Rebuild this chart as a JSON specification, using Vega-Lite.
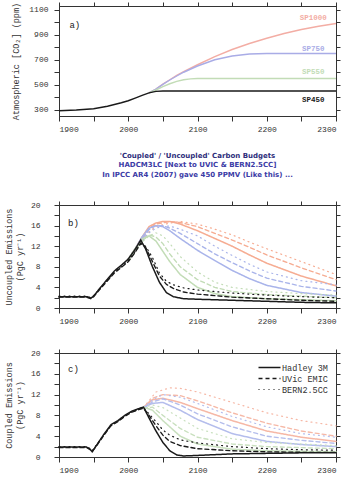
{
"$schema": "https://vega.github.io/schema/vega-lite/v6.json",
"padding": {"left": 4, "top": 1, "right": 0, "bottom": 2},
"background": "white",
"config": {
 "view": {"stroke": "#333", "strokeWidth": 1},
 "axis": {"grid": false, "domain": true, "domainColor": "#333", "tickColor": "#333", "labelColor": "#333", "titleColor": "#333", "labelFont": "Liberation Mono", "titleFont": "Liberation Mono", "labelFontSize": 8, "titleFontSize": 8.5, "titleFontWeight": "normal", "tickSize": 5},
 "legend": {"labelFont": "Liberation Mono", "labelFontSize": 8.5, "labelColor": "#333"}
},
"spacing": 17,
"datasets": {
 "co2": [
  {"yr":2030,"s":"SP1000","v":435},{"yr":2040,"s":"SP1000","v":465},{"yr":2050,"s":"SP1000","v":505},{"yr":2060,"s":"SP1000","v":540},{"yr":2070,"s":"SP1000","v":575},{"yr":2080,"s":"SP1000","v":605},{"yr":2100,"s":"SP1000","v":660},{"yr":2125,"s":"SP1000","v":725},{"yr":2150,"s":"SP1000","v":782},{"yr":2175,"s":"SP1000","v":830},{"yr":2200,"s":"SP1000","v":872},{"yr":2225,"s":"SP1000","v":910},{"yr":2250,"s":"SP1000","v":942},{"yr":2275,"s":"SP1000","v":968},{"yr":2300,"s":"SP1000","v":990},
  {"yr":2030,"s":"SP750","v":435},{"yr":2040,"s":"SP750","v":465},{"yr":2050,"s":"SP750","v":503},{"yr":2060,"s":"SP750","v":538},{"yr":2070,"s":"SP750","v":570},{"yr":2080,"s":"SP750","v":600},{"yr":2100,"s":"SP750","v":650},{"yr":2125,"s":"SP750","v":700},{"yr":2150,"s":"SP750","v":730},{"yr":2175,"s":"SP750","v":746},{"yr":2200,"s":"SP750","v":750},{"yr":2300,"s":"SP750","v":750},
  {"yr":2030,"s":"SP550","v":435},{"yr":2040,"s":"SP550","v":458},{"yr":2050,"s":"SP550","v":485},{"yr":2060,"s":"SP550","v":508},{"yr":2070,"s":"SP550","v":527},{"yr":2080,"s":"SP550","v":540},{"yr":2090,"s":"SP550","v":547},{"yr":2100,"s":"SP550","v":550},{"yr":2300,"s":"SP550","v":550},
  {"yr":1900,"s":"SP450","v":292},{"yr":1925,"s":"SP450","v":298},{"yr":1950,"s":"SP450","v":308},{"yr":1960,"s":"SP450","v":318},{"yr":1970,"s":"SP450","v":328},{"yr":1980,"s":"SP450","v":342},{"yr":1990,"s":"SP450","v":356},{"yr":2000,"s":"SP450","v":372},{"yr":2010,"s":"SP450","v":393},{"yr":2020,"s":"SP450","v":415},{"yr":2030,"s":"SP450","v":435},{"yr":2040,"s":"SP450","v":447},{"yr":2050,"s":"SP450","v":450},{"yr":2300,"s":"SP450","v":450}
 ],
 "labs": [
  {"yr":2267,"s":"SP1000","v":1035},{"yr":2267,"s":"SP750","v":785},{"yr":2267,"s":"SP550","v":605},{"yr":2267,"s":"SP450","v":380}
 ],
 "unc": [
  {"yr":2000,"s":"SP1000","m":"H","v":9.5},{"yr":2010,"s":"SP1000","m":"H","v":11.5},{"yr":2020,"s":"SP1000","m":"H","v":13.8},{"yr":2030,"s":"SP1000","m":"H","v":15.8},{"yr":2040,"s":"SP1000","m":"H","v":16.5},{"yr":2050,"s":"SP1000","m":"H","v":16.8},{"yr":2060,"s":"SP1000","m":"H","v":16.8},{"yr":2075,"s":"SP1000","m":"H","v":16.3},{"yr":2100,"s":"SP1000","m":"H","v":15.0},{"yr":2125,"s":"SP1000","m":"H","v":13.5},{"yr":2150,"s":"SP1000","m":"H","v":12.0},{"yr":2175,"s":"SP1000","m":"H","v":10.3},{"yr":2200,"s":"SP1000","m":"H","v":8.7},{"yr":2250,"s":"SP1000","m":"H","v":6.2},{"yr":2300,"s":"SP1000","m":"H","v":4.3},
  {"yr":2000,"s":"SP1000","m":"U","v":9.0},{"yr":2010,"s":"SP1000","m":"U","v":11.0},{"yr":2020,"s":"SP1000","m":"U","v":13.4},{"yr":2030,"s":"SP1000","m":"U","v":15.5},{"yr":2040,"s":"SP1000","m":"U","v":16.3},{"yr":2060,"s":"SP1000","m":"U","v":16.8},{"yr":2075,"s":"SP1000","m":"U","v":16.6},{"yr":2100,"s":"SP1000","m":"U","v":15.8},{"yr":2125,"s":"SP1000","m":"U","v":14.5},{"yr":2150,"s":"SP1000","m":"U","v":13.2},{"yr":2175,"s":"SP1000","m":"U","v":11.8},{"yr":2200,"s":"SP1000","m":"U","v":10.3},{"yr":2250,"s":"SP1000","m":"U","v":7.8},{"yr":2300,"s":"SP1000","m":"U","v":5.5},
  {"yr":2000,"s":"SP1000","m":"B","v":9.2},{"yr":2010,"s":"SP1000","m":"B","v":11.0},{"yr":2020,"s":"SP1000","m":"B","v":13.0},{"yr":2030,"s":"SP1000","m":"B","v":14.8},{"yr":2040,"s":"SP1000","m":"B","v":15.8},{"yr":2060,"s":"SP1000","m":"B","v":16.5},{"yr":2075,"s":"SP1000","m":"B","v":16.8},{"yr":2100,"s":"SP1000","m":"B","v":16.3},{"yr":2125,"s":"SP1000","m":"B","v":15.3},{"yr":2150,"s":"SP1000","m":"B","v":14.2},{"yr":2175,"s":"SP1000","m":"B","v":12.8},{"yr":2200,"s":"SP1000","m":"B","v":11.5},{"yr":2250,"s":"SP1000","m":"B","v":9.0},{"yr":2300,"s":"SP1000","m":"B","v":6.5},
  {"yr":2000,"s":"SP750","m":"H","v":9.5},{"yr":2010,"s":"SP750","m":"H","v":11.5},{"yr":2020,"s":"SP750","m":"H","v":13.8},{"yr":2030,"s":"SP750","m":"H","v":15.5},{"yr":2040,"s":"SP750","m":"H","v":16.0},{"yr":2050,"s":"SP750","m":"H","v":15.8},{"yr":2060,"s":"SP750","m":"H","v":15.0},{"yr":2075,"s":"SP750","m":"H","v":13.5},{"yr":2100,"s":"SP750","m":"H","v":11.2},{"yr":2125,"s":"SP750","m":"H","v":9.2},{"yr":2150,"s":"SP750","m":"H","v":7.3},{"yr":2175,"s":"SP750","m":"H","v":5.7},{"yr":2200,"s":"SP750","m":"H","v":4.4},{"yr":2250,"s":"SP750","m":"H","v":3.0},{"yr":2300,"s":"SP750","m":"H","v":2.3},
  {"yr":2000,"s":"SP750","m":"U","v":9.0},{"yr":2010,"s":"SP750","m":"U","v":11.0},{"yr":2020,"s":"SP750","m":"U","v":13.3},{"yr":2030,"s":"SP750","m":"U","v":15.2},{"yr":2040,"s":"SP750","m":"U","v":16.0},{"yr":2050,"s":"SP750","m":"U","v":16.0},{"yr":2060,"s":"SP750","m":"U","v":15.5},{"yr":2075,"s":"SP750","m":"U","v":14.5},{"yr":2100,"s":"SP750","m":"U","v":12.5},{"yr":2125,"s":"SP750","m":"U","v":10.5},{"yr":2150,"s":"SP750","m":"U","v":8.8},{"yr":2175,"s":"SP750","m":"U","v":7.2},{"yr":2200,"s":"SP750","m":"U","v":5.8},{"yr":2250,"s":"SP750","m":"U","v":4.2},{"yr":2300,"s":"SP750","m":"U","v":3.3},
  {"yr":2000,"s":"SP750","m":"B","v":9.2},{"yr":2010,"s":"SP750","m":"B","v":11.0},{"yr":2020,"s":"SP750","m":"B","v":13.0},{"yr":2030,"s":"SP750","m":"B","v":14.6},{"yr":2040,"s":"SP750","m":"B","v":15.5},{"yr":2050,"s":"SP750","m":"B","v":15.9},{"yr":2060,"s":"SP750","m":"B","v":15.9},{"yr":2075,"s":"SP750","m":"B","v":15.3},{"yr":2100,"s":"SP750","m":"B","v":14.0},{"yr":2125,"s":"SP750","m":"B","v":12.0},{"yr":2150,"s":"SP750","m":"B","v":10.2},{"yr":2175,"s":"SP750","m":"B","v":8.5},{"yr":2200,"s":"SP750","m":"B","v":7.0},{"yr":2250,"s":"SP750","m":"B","v":5.3},{"yr":2300,"s":"SP750","m":"B","v":4.5},
  {"yr":2000,"s":"SP550","m":"H","v":9.5},{"yr":2010,"s":"SP550","m":"H","v":11.5},{"yr":2020,"s":"SP550","m":"H","v":13.4},{"yr":2030,"s":"SP550","m":"H","v":14.0},{"yr":2040,"s":"SP550","m":"H","v":13.0},{"yr":2050,"s":"SP550","m":"H","v":11.0},{"yr":2060,"s":"SP550","m":"H","v":9.0},{"yr":2075,"s":"SP550","m":"H","v":6.5},{"yr":2100,"s":"SP550","m":"H","v":4.0},{"yr":2125,"s":"SP550","m":"H","v":2.8},{"yr":2150,"s":"SP550","m":"H","v":2.2},{"yr":2200,"s":"SP550","m":"H","v":1.8},{"yr":2250,"s":"SP550","m":"H","v":1.6},{"yr":2300,"s":"SP550","m":"H","v":1.4},
  {"yr":2000,"s":"SP550","m":"U","v":9.0},{"yr":2010,"s":"SP550","m":"U","v":11.0},{"yr":2020,"s":"SP550","m":"U","v":13.0},{"yr":2030,"s":"SP550","m":"U","v":14.2},{"yr":2040,"s":"SP550","m":"U","v":13.8},{"yr":2050,"s":"SP550","m":"U","v":12.5},{"yr":2060,"s":"SP550","m":"U","v":10.5},{"yr":2075,"s":"SP550","m":"U","v":8.0},{"yr":2100,"s":"SP550","m":"U","v":5.5},{"yr":2125,"s":"SP550","m":"U","v":4.0},{"yr":2150,"s":"SP550","m":"U","v":3.2},{"yr":2200,"s":"SP550","m":"U","v":2.6},{"yr":2250,"s":"SP550","m":"U","v":2.3},{"yr":2300,"s":"SP550","m":"U","v":2.0},
  {"yr":2000,"s":"SP550","m":"B","v":9.2},{"yr":2010,"s":"SP550","m":"B","v":11.0},{"yr":2020,"s":"SP550","m":"B","v":12.8},{"yr":2030,"s":"SP550","m":"B","v":14.0},{"yr":2040,"s":"SP550","m":"B","v":14.6},{"yr":2050,"s":"SP550","m":"B","v":14.0},{"yr":2060,"s":"SP550","m":"B","v":12.5},{"yr":2075,"s":"SP550","m":"B","v":10.0},{"yr":2100,"s":"SP550","m":"B","v":7.0},{"yr":2125,"s":"SP550","m":"B","v":5.0},{"yr":2150,"s":"SP550","m":"B","v":4.0},{"yr":2200,"s":"SP550","m":"B","v":3.2},{"yr":2250,"s":"SP550","m":"B","v":2.8},{"yr":2300,"s":"SP550","m":"B","v":2.5},
  {"yr":1900,"s":"SP450","m":"H","v":2.2},{"yr":1920,"s":"SP450","m":"H","v":2.2},{"yr":1940,"s":"SP450","m":"H","v":2.2},{"yr":1946,"s":"SP450","m":"H","v":1.9},{"yr":1950,"s":"SP450","m":"H","v":2.3},{"yr":1960,"s":"SP450","m":"H","v":4.0},{"yr":1970,"s":"SP450","m":"H","v":5.6},{"yr":1980,"s":"SP450","m":"H","v":7.2},{"yr":1990,"s":"SP450","m":"H","v":8.3},{"yr":2000,"s":"SP450","m":"H","v":9.5},{"yr":2010,"s":"SP450","m":"H","v":11.4},{"yr":2018,"s":"SP450","m":"H","v":13.2},{"yr":2025,"s":"SP450","m":"H","v":11.5},{"yr":2035,"s":"SP450","m":"H","v":8.0},{"yr":2045,"s":"SP450","m":"H","v":5.0},{"yr":2055,"s":"SP450","m":"H","v":3.0},{"yr":2065,"s":"SP450","m":"H","v":2.2},{"yr":2080,"s":"SP450","m":"H","v":1.8},{"yr":2100,"s":"SP450","m":"H","v":1.7},{"yr":2150,"s":"SP450","m":"H","v":1.5},{"yr":2200,"s":"SP450","m":"H","v":1.3},{"yr":2250,"s":"SP450","m":"H","v":1.1},{"yr":2300,"s":"SP450","m":"H","v":1.0},
  {"yr":1900,"s":"SP450","m":"U","v":2.1},{"yr":1920,"s":"SP450","m":"U","v":2.1},{"yr":1940,"s":"SP450","m":"U","v":2.1},{"yr":1946,"s":"SP450","m":"U","v":1.8},{"yr":1950,"s":"SP450","m":"U","v":2.2},{"yr":1960,"s":"SP450","m":"U","v":3.8},{"yr":1970,"s":"SP450","m":"U","v":5.3},{"yr":1980,"s":"SP450","m":"U","v":6.8},{"yr":1990,"s":"SP450","m":"U","v":7.9},{"yr":2000,"s":"SP450","m":"U","v":9.0},{"yr":2010,"s":"SP450","m":"U","v":10.8},{"yr":2018,"s":"SP450","m":"U","v":12.6},{"yr":2025,"s":"SP450","m":"U","v":11.8},{"yr":2035,"s":"SP450","m":"U","v":9.0},{"yr":2045,"s":"SP450","m":"U","v":6.2},{"yr":2055,"s":"SP450","m":"U","v":4.6},{"yr":2065,"s":"SP450","m":"U","v":3.8},{"yr":2080,"s":"SP450","m":"U","v":3.1},{"yr":2100,"s":"SP450","m":"U","v":2.7},{"yr":2150,"s":"SP450","m":"U","v":2.1},{"yr":2200,"s":"SP450","m":"U","v":1.8},{"yr":2250,"s":"SP450","m":"U","v":1.5},{"yr":2300,"s":"SP450","m":"U","v":1.3},
  {"yr":1900,"s":"SP450","m":"B","v":2.3},{"yr":1920,"s":"SP450","m":"B","v":2.3},{"yr":1940,"s":"SP450","m":"B","v":2.3},{"yr":1946,"s":"SP450","m":"B","v":2.0},{"yr":1950,"s":"SP450","m":"B","v":2.4},{"yr":1960,"s":"SP450","m":"B","v":3.9},{"yr":1970,"s":"SP450","m":"B","v":5.4},{"yr":1980,"s":"SP450","m":"B","v":7.0},{"yr":1990,"s":"SP450","m":"B","v":8.0},{"yr":2000,"s":"SP450","m":"B","v":9.2},{"yr":2010,"s":"SP450","m":"B","v":11.0},{"yr":2018,"s":"SP450","m":"B","v":12.4},{"yr":2025,"s":"SP450","m":"B","v":12.0},{"yr":2035,"s":"SP450","m":"B","v":9.8},{"yr":2045,"s":"SP450","m":"B","v":6.8},{"yr":2055,"s":"SP450","m":"B","v":5.2},{"yr":2065,"s":"SP450","m":"B","v":4.5},{"yr":2080,"s":"SP450","m":"B","v":3.9},{"yr":2100,"s":"SP450","m":"B","v":3.5},{"yr":2150,"s":"SP450","m":"B","v":2.9},{"yr":2200,"s":"SP450","m":"B","v":2.5},{"yr":2250,"s":"SP450","m":"B","v":2.2},{"yr":2300,"s":"SP450","m":"B","v":2.0}
 ],
 "cpl": [
  {"yr":2022,"s":"SP1000","m":"H","v":9.6},{"yr":2035,"s":"SP1000","m":"H","v":11.0},{"yr":2050,"s":"SP1000","m":"H","v":11.3},{"yr":2075,"s":"SP1000","m":"H","v":10.5},{"yr":2100,"s":"SP1000","m":"H","v":9.3},{"yr":2150,"s":"SP1000","m":"H","v":7.0},{"yr":2200,"s":"SP1000","m":"H","v":5.0},{"yr":2250,"s":"SP1000","m":"H","v":3.8},{"yr":2300,"s":"SP1000","m":"H","v":3.0},
  {"yr":2022,"s":"SP1000","m":"U","v":9.4},{"yr":2035,"s":"SP1000","m":"U","v":11.3},{"yr":2050,"s":"SP1000","m":"U","v":12.0},{"yr":2075,"s":"SP1000","m":"U","v":11.8},{"yr":2100,"s":"SP1000","m":"U","v":10.8},{"yr":2150,"s":"SP1000","m":"U","v":8.5},{"yr":2200,"s":"SP1000","m":"U","v":6.5},{"yr":2250,"s":"SP1000","m":"U","v":5.0},{"yr":2300,"s":"SP1000","m":"U","v":4.0},
  {"yr":2022,"s":"SP1000","m":"B","v":9.5},{"yr":2040,"s":"SP1000","m":"B","v":12.5},{"yr":2060,"s":"SP1000","m":"B","v":13.3},{"yr":2075,"s":"SP1000","m":"B","v":13.2},{"yr":2100,"s":"SP1000","m":"B","v":12.5},{"yr":2150,"s":"SP1000","m":"B","v":10.5},{"yr":2200,"s":"SP1000","m":"B","v":8.5},{"yr":2250,"s":"SP1000","m":"B","v":7.0},{"yr":2300,"s":"SP1000","m":"B","v":6.0},
  {"yr":2022,"s":"SP750","m":"H","v":9.6},{"yr":2035,"s":"SP750","m":"H","v":10.3},{"yr":2050,"s":"SP750","m":"H","v":10.5},{"yr":2075,"s":"SP750","m":"H","v":9.0},{"yr":2100,"s":"SP750","m":"H","v":7.2},{"yr":2150,"s":"SP750","m":"H","v":4.5},{"yr":2200,"s":"SP750","m":"H","v":3.0},{"yr":2250,"s":"SP750","m":"H","v":2.4},{"yr":2300,"s":"SP750","m":"H","v":2.0},
  {"yr":2022,"s":"SP750","m":"U","v":9.4},{"yr":2035,"s":"SP750","m":"U","v":10.6},{"yr":2050,"s":"SP750","m":"U","v":11.2},{"yr":2075,"s":"SP750","m":"U","v":10.0},{"yr":2100,"s":"SP750","m":"U","v":8.3},{"yr":2150,"s":"SP750","m":"U","v":5.8},{"yr":2200,"s":"SP750","m":"U","v":4.0},{"yr":2250,"s":"SP750","m":"U","v":3.2},{"yr":2300,"s":"SP750","m":"U","v":2.6},
  {"yr":2022,"s":"SP750","m":"B","v":9.5},{"yr":2035,"s":"SP750","m":"B","v":11.0},{"yr":2050,"s":"SP750","m":"B","v":12.0},{"yr":2075,"s":"SP750","m":"B","v":11.5},{"yr":2100,"s":"SP750","m":"B","v":10.3},{"yr":2150,"s":"SP750","m":"B","v":7.8},{"yr":2200,"s":"SP750","m":"B","v":5.8},{"yr":2250,"s":"SP750","m":"B","v":4.5},{"yr":2300,"s":"SP750","m":"B","v":3.8},
  {"yr":2022,"s":"SP550","m":"H","v":9.6},{"yr":2035,"s":"SP550","m":"H","v":9.0},{"yr":2050,"s":"SP550","m":"H","v":7.0},{"yr":2075,"s":"SP550","m":"H","v":4.0},{"yr":2100,"s":"SP550","m":"H","v":2.5},{"yr":2150,"s":"SP550","m":"H","v":1.5},{"yr":2200,"s":"SP550","m":"H","v":1.2},{"yr":2300,"s":"SP550","m":"H","v":1.0},
  {"yr":2022,"s":"SP550","m":"U","v":9.4},{"yr":2035,"s":"SP550","m":"U","v":9.6},{"yr":2050,"s":"SP550","m":"U","v":8.0},{"yr":2075,"s":"SP550","m":"U","v":5.5},{"yr":2100,"s":"SP550","m":"U","v":3.8},{"yr":2150,"s":"SP550","m":"U","v":2.5},{"yr":2200,"s":"SP550","m":"U","v":2.0},{"yr":2300,"s":"SP550","m":"U","v":1.6},
  {"yr":2022,"s":"SP550","m":"B","v":9.5},{"yr":2035,"s":"SP550","m":"B","v":10.0},{"yr":2050,"s":"SP550","m":"B","v":9.5},{"yr":2075,"s":"SP550","m":"B","v":7.5},{"yr":2100,"s":"SP550","m":"B","v":5.5},{"yr":2150,"s":"SP550","m":"B","v":3.5},{"yr":2200,"s":"SP550","m":"B","v":2.8},{"yr":2300,"s":"SP550","m":"B","v":2.2},
  {"yr":1900,"s":"SP450","m":"H","v":1.9},{"yr":1920,"s":"SP450","m":"H","v":1.9},{"yr":1940,"s":"SP450","m":"H","v":1.9},{"yr":1945,"s":"SP450","m":"H","v":1.5},{"yr":1948,"s":"SP450","m":"H","v":1.0},{"yr":1955,"s":"SP450","m":"H","v":2.4},{"yr":1965,"s":"SP450","m":"H","v":4.4},{"yr":1975,"s":"SP450","m":"H","v":6.2},{"yr":1985,"s":"SP450","m":"H","v":7.0},{"yr":1995,"s":"SP450","m":"H","v":8.0},{"yr":2005,"s":"SP450","m":"H","v":8.8},{"yr":2015,"s":"SP450","m":"H","v":9.3},{"yr":2022,"s":"SP450","m":"H","v":9.6},{"yr":2030,"s":"SP450","m":"H","v":7.5},{"yr":2040,"s":"SP450","m":"H","v":5.0},{"yr":2050,"s":"SP450","m":"H","v":2.8},{"yr":2060,"s":"SP450","m":"H","v":1.2},{"yr":2070,"s":"SP450","m":"H","v":0.4},{"yr":2080,"s":"SP450","m":"H","v":0.2},{"yr":2100,"s":"SP450","m":"H","v":0.3},{"yr":2150,"s":"SP450","m":"H","v":0.6},{"yr":2200,"s":"SP450","m":"H","v":0.7},{"yr":2250,"s":"SP450","m":"H","v":0.8},{"yr":2300,"s":"SP450","m":"H","v":0.8},
  {"yr":1900,"s":"SP450","m":"U","v":1.8},{"yr":1920,"s":"SP450","m":"U","v":1.8},{"yr":1940,"s":"SP450","m":"U","v":1.8},{"yr":1945,"s":"SP450","m":"U","v":1.4},{"yr":1948,"s":"SP450","m":"U","v":1.1},{"yr":1955,"s":"SP450","m":"U","v":2.3},{"yr":1965,"s":"SP450","m":"U","v":4.2},{"yr":1975,"s":"SP450","m":"U","v":6.0},{"yr":1985,"s":"SP450","m":"U","v":6.8},{"yr":1995,"s":"SP450","m":"U","v":7.8},{"yr":2005,"s":"SP450","m":"U","v":8.6},{"yr":2015,"s":"SP450","m":"U","v":9.1},{"yr":2022,"s":"SP450","m":"U","v":9.4},{"yr":2030,"s":"SP450","m":"U","v":8.0},{"yr":2040,"s":"SP450","m":"U","v":6.0},{"yr":2050,"s":"SP450","m":"U","v":4.2},{"yr":2060,"s":"SP450","m":"U","v":3.0},{"yr":2075,"s":"SP450","m":"U","v":2.2},{"yr":2100,"s":"SP450","m":"U","v":1.6},{"yr":2150,"s":"SP450","m":"U","v":1.2},{"yr":2200,"s":"SP450","m":"U","v":1.0},{"yr":2250,"s":"SP450","m":"U","v":0.9},{"yr":2300,"s":"SP450","m":"U","v":0.9},
  {"yr":1900,"s":"SP450","m":"B","v":2.0},{"yr":1920,"s":"SP450","m":"B","v":2.0},{"yr":1940,"s":"SP450","m":"B","v":2.0},{"yr":1945,"s":"SP450","m":"B","v":1.6},{"yr":1948,"s":"SP450","m":"B","v":1.2},{"yr":1955,"s":"SP450","m":"B","v":2.5},{"yr":1965,"s":"SP450","m":"B","v":4.3},{"yr":1975,"s":"SP450","m":"B","v":6.1},{"yr":1985,"s":"SP450","m":"B","v":6.9},{"yr":1995,"s":"SP450","m":"B","v":7.9},{"yr":2005,"s":"SP450","m":"B","v":8.7},{"yr":2015,"s":"SP450","m":"B","v":9.2},{"yr":2022,"s":"SP450","m":"B","v":9.5},{"yr":2030,"s":"SP450","m":"B","v":8.3},{"yr":2040,"s":"SP450","m":"B","v":6.8},{"yr":2050,"s":"SP450","m":"B","v":5.2},{"yr":2060,"s":"SP450","m":"B","v":4.2},{"yr":2075,"s":"SP450","m":"B","v":3.3},{"yr":2100,"s":"SP450","m":"B","v":2.7},{"yr":2150,"s":"SP450","m":"B","v":2.0},{"yr":2200,"s":"SP450","m":"B","v":1.6},{"yr":2250,"s":"SP450","m":"B","v":1.4},{"yr":2300,"s":"SP450","m":"B","v":1.3}
 ]
},
"vconcat": [
 {
  "width": 277, "height": 110,
  "resolve": {"axis": {"x": "independent", "y": "independent"}},
  "layer": [
   {
    "data": {"name": "co2"},
    "mark": {"type": "line", "opacity": 0},
    "encoding": {
     "x": {"field": "yr", "type": "quantitative", "scale": {"domain": [1900, 2300], "nice": false}, "axis": {"orient": "top", "labels": false, "title": null, "values": [1900,1950,2000,2050,2100,2150,2200,2250,2300], "tickSize": 4}},
     "y": {"field": "v", "type": "quantitative", "scale": {"domain": [250, 1130], "nice": false, "zero": false}, "axis": {"orient": "right", "labels": false, "title": null, "values": [300,400,500,600,700,800,900,1000,1100], "tickSize": 4}}
    }
   },
   {
    "data": {"name": "co2"},
    "mark": {"type": "line", "strokeWidth": 1.4},
    "encoding": {
     "x": {"field": "yr", "type": "quantitative", "axis": {"orient": "bottom", "title": null, "format": "d", "values": [1900,1950,2000,2050,2100,2150,2200,2250,2300], "labelExpr": "datum.value % 100 == 0 ? datum.label : ''", "labelPadding": 4}},
     "y": {"field": "v", "type": "quantitative", "axis": {"orient": "left", "title": "Atmospheric [CO₂] (ppm)", "format": "d", "values": [300,400,500,600,700,800,900,1000,1100], "labelExpr": "datum.value % 200 == 100 ? datum.label : ''", "labelPadding": 6, "titlePadding": 8}},
     "color": {"field": "s", "type": "nominal", "scale": {"domain": ["SP450","SP550","SP750","SP1000"], "range": ["#1a1a1a","#c2dcb6","#a9ace6","#f3ada4"]}, "legend": null}
    }
   },
   {
    "data": {"name": "labs"},
    "mark": {"type": "text", "font": "Liberation Mono", "fontSize": 7.5, "fontWeight": "bold", "align": "center"},
    "encoding": {
     "x": {"field": "yr", "type": "quantitative", "axis": null},
     "y": {"field": "v", "type": "quantitative", "axis": null},
     "text": {"field": "s", "type": "nominal"},
     "color": {"field": "s", "type": "nominal", "legend": null}
    }
   },
   {
    "data": {"values": [{"yr": 1915, "v": 975, "t": "a)"}]},
    "mark": {"type": "text", "font": "Liberation Mono", "fontSize": 9, "align": "left", "color": "#222"},
    "encoding": {
     "x": {"field": "yr", "type": "quantitative", "axis": null},
     "y": {"field": "v", "type": "quantitative", "axis": null},
     "text": {"field": "t", "type": "nominal"}
    }
   }
  ]
 },
 {
  "width": 277, "height": 103,
  "title": {"text": "'Coupled' / 'Uncoupled' Carbon Budgets", "subtitle": ["HADCM3LC [Next to UVIC & BERN2.5CC]", "In IPCC AR4 (2007) gave 450 PPMV (Like this) ..."], "font": "DejaVu Sans", "subtitleFont": "DejaVu Sans", "fontSize": 7, "subtitleFontSize": 7, "fontWeight": "bold", "subtitleFontWeight": "bold", "color": "#2d2d7a", "subtitleColor": "#3b3ba6", "anchor": "middle", "offset": 23, "subtitlePadding": 2, "subtitleLineHeight": 10},
  "resolve": {"axis": {"x": "independent", "y": "independent"}},
  "layer": [
   {
    "data": {"name": "unc"},
    "mark": {"type": "line", "opacity": 0},
    "encoding": {
     "x": {"field": "yr", "type": "quantitative", "scale": {"domain": [1900, 2300], "nice": false}, "axis": {"orient": "top", "labels": false, "title": null, "values": [1900,1950,2000,2050,2100,2150,2200,2250,2300], "tickSize": 4}},
     "y": {"field": "v", "type": "quantitative", "scale": {"domain": [0, 20], "nice": false}, "axis": {"orient": "right", "labels": false, "title": null, "values": [0,2,4,6,8,10,12,14,16,18,20], "tickSize": 4}}
    }
   },
   {
    "data": {"name": "unc"},
    "mark": {"type": "line", "strokeCap": "round"},
    "encoding": {
     "x": {"field": "yr", "type": "quantitative", "axis": {"orient": "bottom", "title": null, "format": "d", "values": [1900,1950,2000,2050,2100,2150,2200,2250,2300], "labelExpr": "datum.value % 100 == 0 ? datum.label : ''", "labelPadding": 4, "minExtent": 22}},
     "y": {"field": "v", "type": "quantitative", "axis": {"orient": "left", "title": ["Uncoupled Emissions", "(PgC yr⁻¹)"], "values": [0,2,4,6,8,10,12,14,16,18,20], "labelExpr": "datum.value % 4 == 0 ? datum.label : ''", "labelPadding": 14, "titlePadding": 6}},
     "color": {"field": "s", "type": "nominal", "scale": {"domain": ["SP450","SP550","SP750","SP1000"], "range": ["#1a1a1a","#c2dcb6","#a9b4ea","#f6ac92"]}, "legend": null},
     "strokeDash": {"field": "m", "type": "nominal", "scale": {"domain": ["H","U","B"], "range": [[1,0],[4,3],[1,4]]}, "legend": null},
     "strokeWidth": {"field": "m", "type": "nominal", "scale": {"domain": ["H","U","B"], "range": [1.5,1.2,2.2]}, "legend": null}
    }
   },
   {
    "data": {"values": [{"yr": 1913, "v": 16.5, "t": "b)"}]},
    "mark": {"type": "text", "font": "Liberation Mono", "fontSize": 9, "align": "left", "color": "#222"},
    "encoding": {
     "x": {"field": "yr", "type": "quantitative", "axis": null},
     "y": {"field": "v", "type": "quantitative", "axis": null},
     "text": {"field": "t", "type": "nominal"}
    }
   }
  ]
 },
 {
  "width": 277, "height": 104,
  "resolve": {"axis": {"x": "independent", "y": "independent"}},
  "layer": [
   {
    "data": {"name": "cpl"},
    "mark": {"type": "line", "opacity": 0},
    "encoding": {
     "x": {"field": "yr", "type": "quantitative", "scale": {"domain": [1900, 2300], "nice": false}, "axis": {"orient": "top", "labels": false, "title": null, "values": [1900,1950,2000,2050,2100,2150,2200,2250,2300], "tickSize": 4}},
     "y": {"field": "v", "type": "quantitative", "scale": {"domain": [0, 20], "nice": false}, "axis": {"orient": "right", "labels": false, "title": null, "values": [0,2,4,6,8,10,12,14,16,18,20], "tickSize": 4}}
    }
   },
   {
    "data": {"name": "cpl"},
    "mark": {"type": "line", "strokeCap": "round"},
    "encoding": {
     "x": {"field": "yr", "type": "quantitative", "axis": {"orient": "bottom", "title": null, "format": "d", "values": [1900,1950,2000,2050,2100,2150,2200,2250,2300], "labelExpr": "datum.value % 100 == 0 ? datum.label : ''", "labelPadding": 4}},
     "y": {"field": "v", "type": "quantitative", "axis": {"orient": "left", "title": ["Coupled Emissions", "(PgC yr⁻¹)"], "values": [0,2,4,6,8,10,12,14,16,18,20], "labelExpr": "datum.value % 4 == 0 ? datum.label : ''", "labelPadding": 14, "titlePadding": 6}},
     "color": {"field": "s", "type": "nominal", "scale": {"domain": ["SP450","SP550","SP750","SP1000"], "range": ["#1a1a1a","#c9e0bf","#b4bdec","#f6b8a6"]}, "legend": null},
     "strokeDash": {"field": "m", "type": "nominal", "scale": {"domain": ["H","U","B"], "range": [[1,0],[4,3],[1,4]]}, "legend": {"title": null, "orient": "top-right", "offset": 6, "symbolType": "M-2,0L2,0", "symbolSize": 121, "symbolStrokeColor": "#1a1a1a", "symbolStrokeWidth": 2.2, "labelExpr": "datum.value == 'H' ? 'Hadley 3M' : datum.value == 'U' ? 'UVic EMIC' : 'BERN2.5CC'", "rowPadding": 0, "padding": 2, "labelFontSize": 8.5, "labelOffset": 6}},
     "strokeWidth": {"field": "m", "type": "nominal", "scale": {"domain": ["H","U","B"], "range": [1.5,1.2,2.2]}, "legend": null}
    }
   },
   {
    "data": {"values": [{"yr": 1913, "v": 17, "t": "c)"}]},
    "mark": {"type": "text", "font": "Liberation Mono", "fontSize": 9, "align": "left", "color": "#222"},
    "encoding": {
     "x": {"field": "yr", "type": "quantitative", "axis": null},
     "y": {"field": "v", "type": "quantitative", "axis": null},
     "text": {"field": "t", "type": "nominal"}
    }
   }
  ]
 }
],
"resolve": {"scale": {"color": "independent", "strokeDash": "independent", "strokeWidth": "independent"}}
}
